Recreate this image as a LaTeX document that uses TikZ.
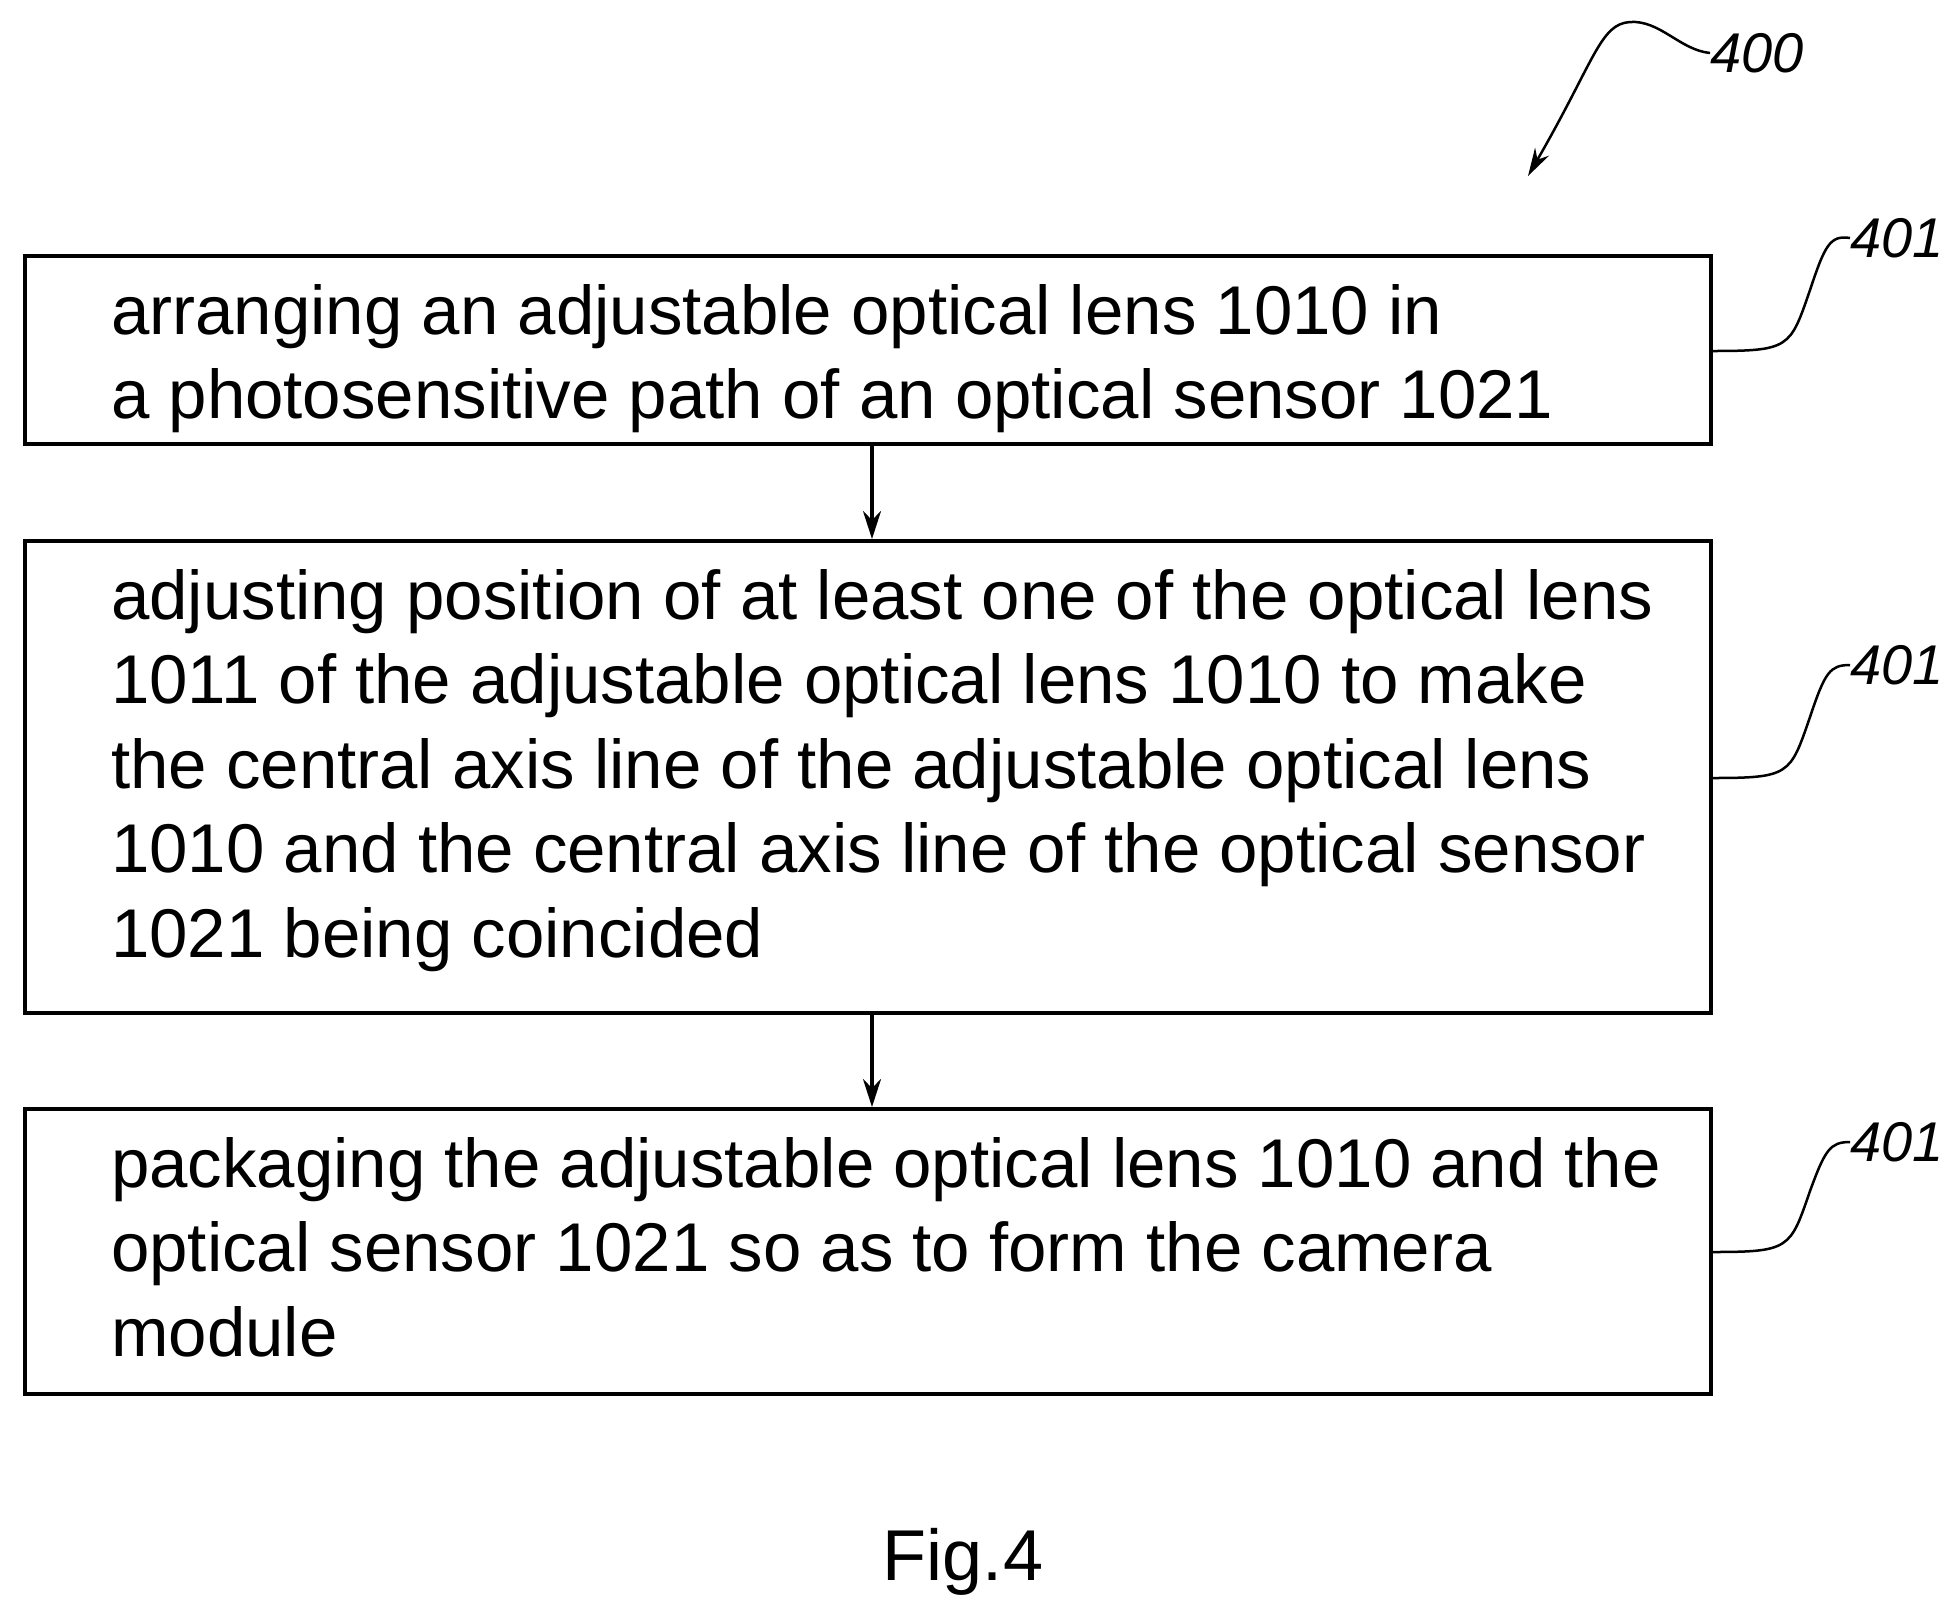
\documentclass[tikz,border=0pt]{standalone}
\usepackage{fontspec}
\setmainfont{Liberation Sans}
\usetikzlibrary{arrows.meta}
\begin{document}
\begin{tikzpicture}[x=1pt,y=-1pt,
  box/.style={draw,line width=4pt,inner sep=0pt,anchor=north west},
  txt/.style={anchor=north west,inner sep=0pt,align=left,font=\fontsize{69}{84.5}\selectfont},
  lab/.style={anchor=west,inner sep=0pt,font=\fontsize{56}{60}\selectfont\itshape},
  lead/.style={line width=2.5pt},
  arr/.style={line width=3.5pt,-{Stealth[length=28pt,width=18pt]}}]
\useasboundingbox (0,0) rectangle (1957,1618);
\node[box,minimum width=1686pt,minimum height=188pt] (b1) at (23,254) {};
\node[box,minimum width=1686pt,minimum height=472pt] (b2) at (23,539) {};
\node[box,minimum width=1686pt,minimum height=285pt] (b3) at (23,1107) {};
\node[txt] (t1) at (111,284) {arranging an adjustable optical lens 1010 in\\a photosensitive path of an optical sensor 1021};
\node[txt] (t2) at (111,569) {adjusting position of at least one of the optical lens\\1011 of the adjustable optical lens 1010 to make\\the central axis line of the adjustable optical lens\\1010 and the central axis line of the optical sensor\\1021 being coincided};
\node[txt] (t3) at (111,1137) {packaging the adjustable optical lens 1010 and the\\optical sensor 1021 so as to form the camera\\module};
\draw[arr] (b1.south -| 872,0) -- (b2.north -| 872,0);
\draw[arr] (b2.south -| 872,0) -- (b3.north -| 872,0);
\node[lab] (l1) at (1850,238) {401};
\node[lab] (l2) at (1850,665) {401};
\node[lab] (l3) at (1850,1142) {401};
\draw[lead] (1711,351) .. controls (1790,351) and (1790,348) .. (1810,290) .. controls (1825,245) and (1830,235) .. (l1.west);
\draw[lead] (1711,778) .. controls (1790,778) and (1790,775) .. (1810,717) .. controls (1825,672) and (1830,665) .. (l2.west);
\draw[lead] (1711,1252) .. controls (1790,1252) and (1790,1249) .. (1810,1191) .. controls (1825,1150) and (1830,1142) .. (l3.west);
\node[lab] (l0) at (1710,53) {400};
\coordinate (tip) at (1528,176);
\draw[lead,-{Stealth[length=28pt,width=16pt]}] (l0.west) .. controls (1680,50) and (1660,20) .. (1630,22) .. controls (1600,24) and (1595,60) .. (tip);
\node[font=\fontsize{72}{80}\selectfont] (fig) at (963,1562) {Fig.4};
\end{tikzpicture}
\end{document}
